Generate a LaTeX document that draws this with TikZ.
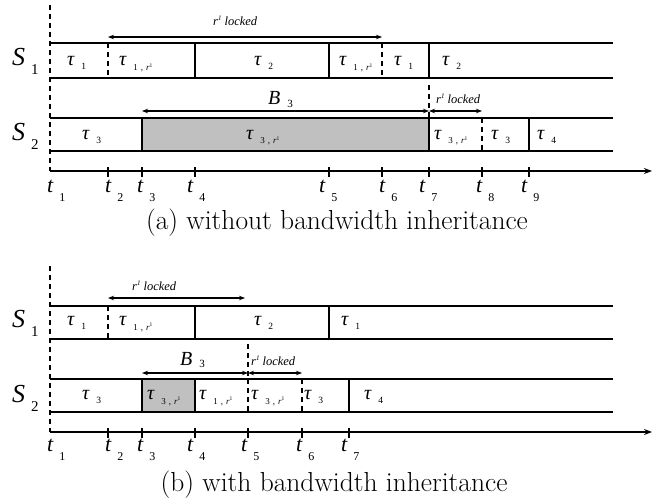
\documentclass[tikz,border=0pt]{standalone}
\usepackage{fontspec}
\newfontfamily\tms{Liberation Serif}
\usetikzlibrary{arrows.meta}
\definecolor{cellgray}{RGB}{192,192,192}
\tikzset{
  boxline/.style={line width=2.8pt},
  divsolid/.style={line width=2.6pt},
  divdash/.style={line width=2.2pt, dash pattern=on 5pt off 4pt},
  axisline/.style={line width=2pt, -{Stealth[length=8pt,width=6pt]}},
  tickmark/.style={line width=2.6pt},
  span/.style={line width=1.3pt, {Stealth[length=6pt,width=4.5pt]}-{Stealth[length=6pt,width=4.5pt]}},
  lbl/.style={inner sep=0pt, anchor=base west, font=\tms},
  captext/.style={inner sep=0pt, anchor=base, font=\fontsize{27.5}{27.5}\selectfont},
}
\newcommand\myrsup{\textit{r}\raisebox{3.5pt}{\fontsize{5.5}{5.5}\selectfont 1}}
\newcommand\mytk[1]{{\fontsize{20}{20}\selectfont\itshape τ}\hspace{7pt}\raisebox{-4pt}{\fontsize{9.5}{9.5}\selectfont #1}}
\newcommand\mytkr[1]{{\fontsize{20}{20}\selectfont\itshape τ}\hspace{7pt}\raisebox{-5pt}{\fontsize{9}{9}\selectfont #1\hspace{3pt},\hspace{3pt}\myrsup}}
\newcommand\mytlab[1]{{\fontsize{22}{22}\selectfont\itshape t}\hspace{6pt}\raisebox{-9pt}{\fontsize{12}{12}\selectfont #1}}
\newcommand\myslab[1]{{\fontsize{26}{26}\selectfont\itshape S}\hspace{6pt}\raisebox{-9pt}{\fontsize{15}{15}\selectfont #1}}
\newcommand\myblab{{\fontsize{20}{20}\selectfont\itshape B}\hspace{7pt}\raisebox{-2pt}{\fontsize{11}{11}\selectfont 3}}
\newcommand\mylocked{{\fontsize{12.5}{12.5}\selectfont\itshape r\raisebox{5pt}{\fontsize{7}{7}\selectfont 1}\hspace{3pt}locked}}
\begin{document}
\begin{tikzpicture}[x=1pt,y=-1pt]
\useasboundingbox (0,0) rectangle (668,500);

% ================= panel (a) =================
\coordinate (a-v0) at (50,5);
\coordinate (a-o) at (50,171);
\coordinate (a-end) at (652,171);
\foreach \n/\x in {2/108,3/142,4/195,5/329,6/382,7/429,8/482,9/529}{
  \coordinate (a-t\n-top) at (\x,167);
  \coordinate (a-t\n-bot) at (\x,177);
}
\coordinate (a1-tl) at (50,43);  \coordinate (a1-tr) at (613,43);
\coordinate (a1-bl) at (50,78);  \coordinate (a1-br) at (613,78);
\coordinate (a2-tl) at (50,118); \coordinate (a2-tr) at (613,118);
\coordinate (a2-bl) at (50,151); \coordinate (a2-br) at (613,151);

\fill[cellgray] (142,118) rectangle (429,151);
\draw[boxline] (a1-tl) -- (a1-tr) (a1-bl) -- (a1-br);
\draw[boxline] (a2-tl) -- (a2-tr) (a2-bl) -- (a2-br);
\foreach \x in {195,329,429}{ \draw[divsolid] (\x,43) -- (\x,78); }
\foreach \x in {108,382}{ \draw[divdash] (\x,43) -- (\x,78); }
\foreach \x in {142,429,529}{ \draw[divsolid] (\x,118) -- (\x,151); }
\draw[divdash] (482,118) -- (482,151);
\draw[divdash] (a-v0) -- (a-o);
\draw[divdash] (429,85) -- (429,118);
\draw[axisline] (a-o) -- (a-end);
\foreach \n in {2,...,9}{ \draw[tickmark] (a-t\n-top) -- (a-t\n-bot); }

\coordinate (a-r1l) at (108,37); \coordinate (a-r1r) at (382,37);
\coordinate (a-b3l) at (142,111); \coordinate (a-b3r) at (429,111);
\coordinate (a-r2r) at (482,111);
\draw[span] (a-r1l) -- (a-r1r);
\draw[span] (a-b3l) -- (a-b3r);
\draw[span] (a-b3r) -- (a-r2r);

\node[lbl] (a-lk1) at (213,26) {\mylocked};
\node[lbl] (a-B3) at (268,105) {\myblab};
\node[lbl] (a-lk2) at (436,103) {\mylocked};
\node[lbl] (a-S1) at (12,66) {\myslab{1}};
\node[lbl] (a-S2) at (12,140) {\myslab{2}};

\node[lbl] (a-x1) at (67,66) {\mytk{1}};
\node[lbl] (a-x2) at (119,66) {\mytkr{1}};
\node[lbl] (a-x3) at (254,66) {\mytk{2}};
\node[lbl] (a-x4) at (339,66) {\mytkr{1}};
\node[lbl] (a-x5) at (394,66) {\mytk{1}};
\node[lbl] (a-x6) at (442,66) {\mytk{2}};

\node[lbl] (a-y1) at (82,139) {\mytk{3}};
\node[lbl] (a-y2) at (246,139) {\mytkr{3}};
\node[lbl] (a-y3) at (434,139) {\mytkr{3}};
\node[lbl] (a-y4) at (491,139) {\mytk{3}};
\node[lbl] (a-y5) at (537,139) {\mytk{4}};

\foreach \n/\x in {1/47,2/105,3/137,4/187,5/319,6/379,7/419,8/476,9/521}{
  \node[lbl] (a-tl\n) at (\x,192) {\mytlab{\n}};
}
\node[captext] (a-cap) at (337,229) {(a) without bandwidth inheritance};

% ================= panel (b) =================
\coordinate (b-v0) at (50,266);
\coordinate (b-o) at (50,432);
\coordinate (b-end) at (652,432);
\foreach \n/\x in {2/108,3/142,4/195,5/248,6/302,7/349}{
  \coordinate (b-t\n-top) at (\x,428);
  \coordinate (b-t\n-bot) at (\x,438);
}
\coordinate (b1-tl) at (50,306);  \coordinate (b1-tr) at (613,306);
\coordinate (b1-bl) at (50,339);  \coordinate (b1-br) at (613,339);
\coordinate (b2-tl) at (50,379); \coordinate (b2-tr) at (613,379);
\coordinate (b2-bl) at (50,412); \coordinate (b2-br) at (613,412);

\fill[cellgray] (142,379) rectangle (195,412);
\draw[boxline] (b1-tl) -- (b1-tr) (b1-bl) -- (b1-br);
\draw[boxline] (b2-tl) -- (b2-tr) (b2-bl) -- (b2-br);
\foreach \x in {195,329}{ \draw[divsolid] (\x,306) -- (\x,339); }
\draw[divdash] (108,306) -- (108,339);
\foreach \x in {142,195,349}{ \draw[divsolid] (\x,379) -- (\x,412); }
\foreach \x in {248,302}{ \draw[divdash] (\x,379) -- (\x,412); }
\draw[divdash] (b-v0) -- (b-o);
\draw[divdash] (248,344) -- (248,379);
\draw[axisline] (b-o) -- (b-end);
\foreach \n in {2,...,7}{ \draw[tickmark] (b-t\n-top) -- (b-t\n-bot); }

\coordinate (b-r1l) at (108,298); \coordinate (b-r1r) at (245,298);
\coordinate (b-b3l) at (142,373); \coordinate (b-b3r) at (248,373);
\coordinate (b-r2r) at (302,373);
\draw[span] (b-r1l) -- (b-r1r);
\draw[span] (b-b3l) -- (b-b3r);
\draw[span] (b-b3r) -- (b-r2r);

\node[lbl] (b-lk1) at (132,290) {\mylocked};
\node[lbl] (b-B3) at (180,365) {\myblab};
\node[lbl] (b-lk2) at (251,365) {\mylocked};
\node[lbl] (b-S1) at (12,327) {\myslab{1}};
\node[lbl] (b-S2) at (12,402) {\myslab{2}};

\node[lbl] (b-x1) at (67,325) {\mytk{1}};
\node[lbl] (b-x2) at (119,325) {\mytkr{1}};
\node[lbl] (b-x3) at (254,325) {\mytk{2}};
\node[lbl] (b-x4) at (341,325) {\mytk{1}};

\node[lbl] (b-y1) at (82,399) {\mytk{3}};
\node[lbl] (b-y2) at (147,399) {\mytkr{3}};
\node[lbl] (b-y3) at (199,399) {\mytkr{1}};
\node[lbl] (b-y4) at (251,399) {\mytkr{3}};
\node[lbl] (b-y5) at (304,399) {\mytk{3}};
\node[lbl] (b-y6) at (364,399) {\mytk{4}};

\foreach \n/\x in {1/47,2/105,3/137,4/187,5/241,6/296,7/341}{
  \node[lbl] (b-tl\n) at (\x,451) {\mytlab{\n}};
}
\node[captext] (b-cap) at (334,491) {(b) with bandwidth inheritance};
\end{tikzpicture}
\end{document}
